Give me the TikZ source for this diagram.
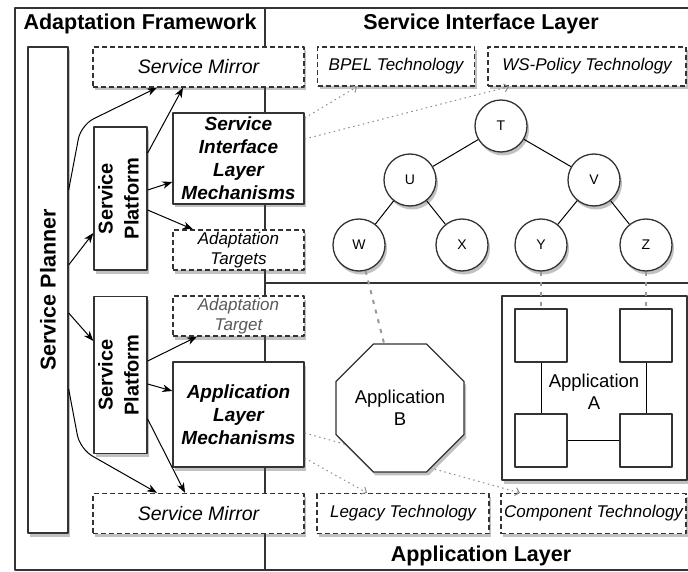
\documentclass[tikz,border=0pt]{standalone}
\usepackage{fontspec}
\setmainfont{Liberation Sans}
\usepackage{tikz}
\usetikzlibrary{arrows.meta, calc, shadows, shapes.geometric}
\definecolor{lineGray}{rgb}{0.2,0.2,0.2}
\definecolor{dotGray}{rgb}{0.55,0.55,0.55}
\definecolor{linkGray}{rgb}{0.6,0.6,0.6}
\definecolor{softText}{rgb}{0.35,0.35,0.35}

\begin{document}
\begin{tikzpicture}[x=1pt, y=-1pt, line join=round,
	boxLine/.style={draw=lineGray, line width=1.3pt, fill=white, inner sep=0pt, align=center},
	shadowBox/.style={boxLine, drop shadow={shadow xshift=2pt, shadow yshift=-3.5pt, opacity=0.35, fill=black!70}},
	dashBox/.style={shadowBox, dash pattern=on 5pt off 3pt},
	headText/.style={font=\fontsize{21.5}{25}\selectfont\bfseries},
	mirrorText/.style={font=\fontsize{19.5}{23}\selectfont\itshape},
	techText/.style={font=\fontsize{17}{20}\selectfont\itshape},
	mechText/.style={font=\fontsize{19}{23}\selectfont\bfseries\itshape},
	platformText/.style={font=\fontsize{20}{26}\selectfont\bfseries},
	appText/.style={font=\fontsize{18.5}{22}\selectfont, align=center},
	treeNode/.style={circle, shadowBox, minimum size=52pt, font=\fontsize{14}{16}\selectfont},
	planArrow/.style={-{Stealth[length=10pt, width=7.5pt, inset=3pt]}, line width=1pt, black},
	techArrow/.style={-{Straight Barb[length=4pt, width=8pt]}, dotGray, line width=1pt, dash pattern=on 1.5pt off 3.5pt},
	linkLine/.style={linkGray, line width=2pt, dash pattern=on 4pt off 6pt},
	treeEdge/.style={black, line width=1pt}]

	\useasboundingbox (0,0) rectangle (688,572);
	\clip (0,0) rectangle (688,572);

	% frame and layer borders
	\draw[lineGray, line width=1.3pt] (15,8) rectangle (720,570);
	\draw[lineGray, line width=1.3pt] (265,8) -- (265,570);
	\draw[lineGray, line width=1.3pt] (265,283) -- (720,283);

	\node[headText] (fwTitle) at (140,24) {Adaptation Framework};
	\node[headText] (silTitle) at (481,24) {Service Interface Layer};
	\node[headText] (alTitle) at (481,556) {Application Layer};

	% adaptation framework
	\node[shadowBox, headText, minimum width=40pt, minimum height=486pt] (planner) at (48,290) {\rotatebox{90}{Service Planner}};
	\node[shadowBox, platformText, minimum width=53pt, minimum height=143pt] (spTop) at (120.5,198.5) {\rotatebox{90}{\begin{tabular}{@{}c@{}}Service\\Platform\end{tabular}}};
	\node[shadowBox, platformText, minimum width=53pt, minimum height=157pt] (spBot) at (120.5,375) {\rotatebox{90}{\begin{tabular}{@{}c@{}}Service\\Platform\end{tabular}}};

	\node[dashBox, mirrorText, minimum width=211pt, minimum height=40pt] (mirrorTop) at (198.5,67) {Service Mirror};
	\node[shadowBox, mechText, minimum width=131pt, minimum height=91pt] (silMech) at (238.5,158.5) {Service\\Interface\\Layer\\Mechanisms};
	\node[dashBox, techText, minimum width=131pt, minimum height=40pt] (targetsTop) at (238.5,250) {Adaptation\\Targets};
	\node[dashBox, techText, text=softText, minimum width=131pt, minimum height=40pt] (targetBot) at (238.5,316) {Adaptation\\Target};
	\node[shadowBox, mechText, minimum width=131pt, minimum height=105pt] (appMech) at (238.5,414.5) {Application\\Layer\\Mechanisms};
	\node[dashBox, mirrorText, minimum width=211pt, minimum height=40pt] (mirrorBot) at (198.5,513.5) {Service Mirror};

	% technologies
	\node[dashBox, techText, minimum width=157pt, minimum height=39pt] (bpel) at (396,66.5) {BPEL Technology};
	\node[dashBox, techText, minimum width=198pt, minimum height=39pt] (wsp) at (587,66.5) {WS-Policy Technology};
	\node[dashBox, techText, minimum width=172pt, minimum height=40pt] (legacy) at (403,513.5) {Legacy Technology};
	\node[dashBox, techText, minimum width=185pt, minimum height=40pt] (comp) at (593.5,513.5) {Component Technology};

	\draw[techArrow] (silMech.east |- 0,118) -- (bpel.south -| 357,0);
	\draw[techArrow] (silMech.east |- 0,139) -- (wsp.south -| 509,0);
	\draw[techArrow] (appMech.east |- 0,433) -- (comp.north -| 520,0);
	\draw[techArrow] (appMech.east |- 0,458) -- (legacy.north -| 367,0);

	% service tree
	\node[treeNode] (T) at (501,126) {T};
	\node[treeNode] (U) at (410,180) {U};
	\node[treeNode] (V) at (594,180) {V};
	\node[treeNode] (W) at (359,245) {W};
	\node[treeNode] (X) at (462,245) {X};
	\node[treeNode] (Y) at (541,245) {Y};
	\node[treeNode] (Z) at (646,245) {Z};
	\draw[treeEdge] (T) -- (U);
	\draw[treeEdge] (T) -- (V);
	\draw[treeEdge] (U) -- (W);
	\draw[treeEdge] (U) -- (X);
	\draw[treeEdge] (V) -- (Y);
	\draw[treeEdge] (V) -- (Z);

	% applications
	\node[regular polygon, regular polygon sides=8, minimum size=124pt, shadowBox, appText] (appB) at (400,408) {Application\\B};

	\node[shadowBox, minimum width=185pt, minimum height=184pt] (appA) at (594.5,388) {};
	\node[boxLine, minimum width=52pt, minimum height=53pt] (sqTL) at (541,335.5) {};
	\node[boxLine, minimum width=52pt, minimum height=53pt] (sqTR) at (646,335.5) {};
	\node[boxLine, minimum width=52pt, minimum height=53pt] (sqBL) at (541,440.5) {};
	\node[boxLine, minimum width=52pt, minimum height=53pt] (sqBR) at (646,440.5) {};
	\draw[treeEdge] (sqTL) -- (sqBL);
	\draw[treeEdge] (sqTR) -- (sqBR);
	\draw[treeEdge] (sqBL) -- (sqBR);
	\node[appText] (appALabel) at (594,392) {Application\\A};

	\draw[linkLine] (W) -- (appB.north -| 384,0);
	\draw[linkLine] (Y) -- (sqTL);
	\draw[linkLine] (Z) -- (sqTR);

	% planning arrows
	\coordinate (bendTop) at (81,125);
	\coordinate (bendBot) at (80,449);
	\draw[planArrow, rounded corners=14pt] (planner.east |- 0,190) -- (bendTop) -- (mirrorTop.south -| 157,0);
	\draw[planArrow] (planner.east |- 0,265) -- (spTop.west |- 0,233);
	\draw[planArrow] (spTop.east |- 0,153) -- (mirrorTop.south -| 183,0);
	\draw[planArrow] (spTop.east |- 0,190) -- (silMech.west |- 0,182);
	\draw[planArrow] (spTop.east |- 0,210) -- (targetsTop.north -| 193,0);
	\draw[planArrow] (planner.east |- 0,313) -- (spBot.west |- 0,341);
	\draw[planArrow] (spBot.east |- 0,361) -- (targetBot.south -| 197,0);
	\draw[planArrow] (spBot.east |- 0,384) -- (appMech.west |- 0,391);
	\draw[planArrow] (spBot.east |- 0,419) -- (mirrorBot.north -| 185,0);
	\draw[planArrow, rounded corners=14pt] (planner.east |- 0,389) -- (bendBot) -- (mirrorBot.north -| 157,0);

\end{tikzpicture}
\end{document}
